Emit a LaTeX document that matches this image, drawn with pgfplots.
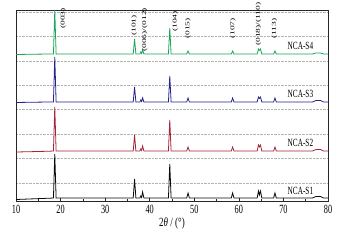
\documentclass[border=0pt]{standalone}
\usepackage{fontspec}
\setmainfont{Liberation Serif}
\usepackage{graphicx}
\usepackage{pgfplots}
\pgfplotsset{compat=1.18}

\definecolor{cS1}{RGB}{10,10,10}
\definecolor{cS2}{RGB}{165,35,55}
\definecolor{cS3}{RGB}{35,35,140}
\definecolor{cS4}{RGB}{25,165,90}
\newcommand{\hkl}[1]{\scalebox{1}[0.62]{#1}}

\begin{document}
\begin{tikzpicture}
\begin{axis}[
    scale only axis,
    width=312pt, height=191pt,
    xmin=10, xmax=80, ymin=0, ymax=191,
    xtick={10,20,...,80},
    minor x tick num=1,
    xtick pos=lower,
    tick align=inside,
    major tick length=3.5pt,
    minor tick length=2pt,
    ytick={18,42.43,66.86,91.29,115.71,140.14,164.57,189},
    yticklabels={},
    y tick style={draw=none},
    ymajorgrids,
    major grid style={densely dotted, gray!60, line width=0.5pt},
    axis line style={line width=0.7pt, black!85},
    every x tick/.style={black!85, line width=0.6pt},
    /pgf/number format/assume math mode=true,
    xticklabel style={font=\fontsize{12.5}{12.5}\selectfont, xscale=0.66, yshift=-1pt},
    xlabel={2\textit{θ} / (°)},
    xlabel style={font=\fontsize{12.5}{12.5}\selectfont, xscale=0.72, yshift=3pt},
    clip=false,
]
% NCA-S1
\addplot[cS1, line width=0.8pt] coordinates {
(10,1.5)(14,2.2)(17.5,2.8)(18.4,3)(18.7,47)(19.0,3)(25,3)(36.3,3)(36.6,22)(36.9,3)
(37.8,3)(38.0,5)(38.2,3.5)(38.4,9)(38.7,3)(44.2,3)(44.5,37)(44.8,3)(48.3,3)(48.6,8)(48.9,3)
(58.3,3)(58.6,8)(58.9,3)(64.1,3)(64.4,10)(64.6,6)(64.85,10)(65.15,3)(67.8,3)(68.1,8)(68.4,3)
(76.5,3)(77.3,4.5)(78.3,4.5)(79,3)(80,3)};
% NCA-S2
\addplot[cS2, line width=0.8pt] coordinates {
(10,49)(14,49.4)(17.5,49.8)(18.4,50)(18.7,94)(19.0,50)(25,50)(36.3,50)(36.6,66)(36.9,50)
(37.8,50)(38.0,52)(38.2,50.5)(38.4,55)(38.7,50)(44.2,50)(44.5,81)(44.8,50)(48.3,50)(48.6,54)(48.9,50)
(58.3,50)(58.6,54)(58.9,50)(64.1,50)(64.4,56)(64.6,54)(64.85,56)(65.15,50)(67.8,50)(68.1,54)(68.4,50)
(76.5,50)(77.3,51.5)(78.3,51.5)(79,50)(80,50)};
% NCA-S3
\addplot[cS3, line width=0.8pt] coordinates {
(10,98.5)(14,98.8)(17.5,99)(18.4,99)(18.7,144)(19.0,99)(25,99)(36.3,99)(36.6,114)(36.9,99)
(37.8,99)(38.0,101)(38.2,99.5)(38.4,103)(38.7,99)(44.2,99)(44.5,125)(44.8,99)(48.3,99)(48.6,103)(48.9,99)
(58.3,99)(58.6,103)(58.9,99)(64.1,99)(64.4,104)(64.6,102.5)(64.85,104)(65.15,99)(67.8,99)(68.1,103)(68.4,99)
(76.5,99)(77.3,100.5)(78.3,100.5)(79,99)(80,99)};
% NCA-S4
\addplot[cS4, line width=0.8pt] coordinates {
(10,146.5)(14,146.8)(17.5,147)(18.4,147)(18.7,191)(19.0,147)(25,147)(36.3,147)(36.6,162)(36.9,147)
(37.8,147)(38.0,149)(38.2,147.5)(38.4,151)(38.7,147)(44.2,147)(44.5,173)(44.8,147)(48.3,147)(48.6,150)(48.9,147)
(58.3,147)(58.6,150)(58.9,147)(64.1,147)(64.4,152)(64.6,150.5)(64.85,152)(65.15,147)(67.8,147)(68.1,150)(68.4,147)
(76.5,147)(77.3,148)(78.3,148)(79,147)(80,147)};

\begin{scope}[every node/.style={font=\fontsize{9.5}{9.5}\selectfont, rotate=90, anchor=west, inner sep=0pt}]
\node at (axis cs:20.6,172) {\hkl{(003)}};
\node at (axis cs:36.5,165) {\hkl{(101)}};
\node at (axis cs:38.9,149) {\hkl{(006)/(012)}};
\node at (axis cs:45.7,169) {\hkl{(104)}};
\node at (axis cs:48.6,162) {\hkl{(015)}};
\node at (axis cs:58.7,162) {\hkl{(107)}};
\node at (axis cs:64.4,155) {\hkl{(018)/(110)}};
\node at (axis cs:68.0,162) {\hkl{(113)}};
\end{scope}

\begin{scope}[every node/.style={font=\fontsize{11}{11}\selectfont, xscale=0.66, anchor=base east, inner sep=0pt}]
\node at (axis cs:76.7,152) {NCA-S4};
\node at (axis cs:76.7,104) {NCA-S3};
\node at (axis cs:76.7,55) {NCA-S2};
\node at (axis cs:76.7,7) {NCA-S1};
\end{scope}
\end{axis}
\path ([xshift=-16pt,yshift=-41pt]current axis.south west) rectangle ([xshift=20pt,yshift=10pt]current axis.north east);
\end{tikzpicture}
\end{document}
